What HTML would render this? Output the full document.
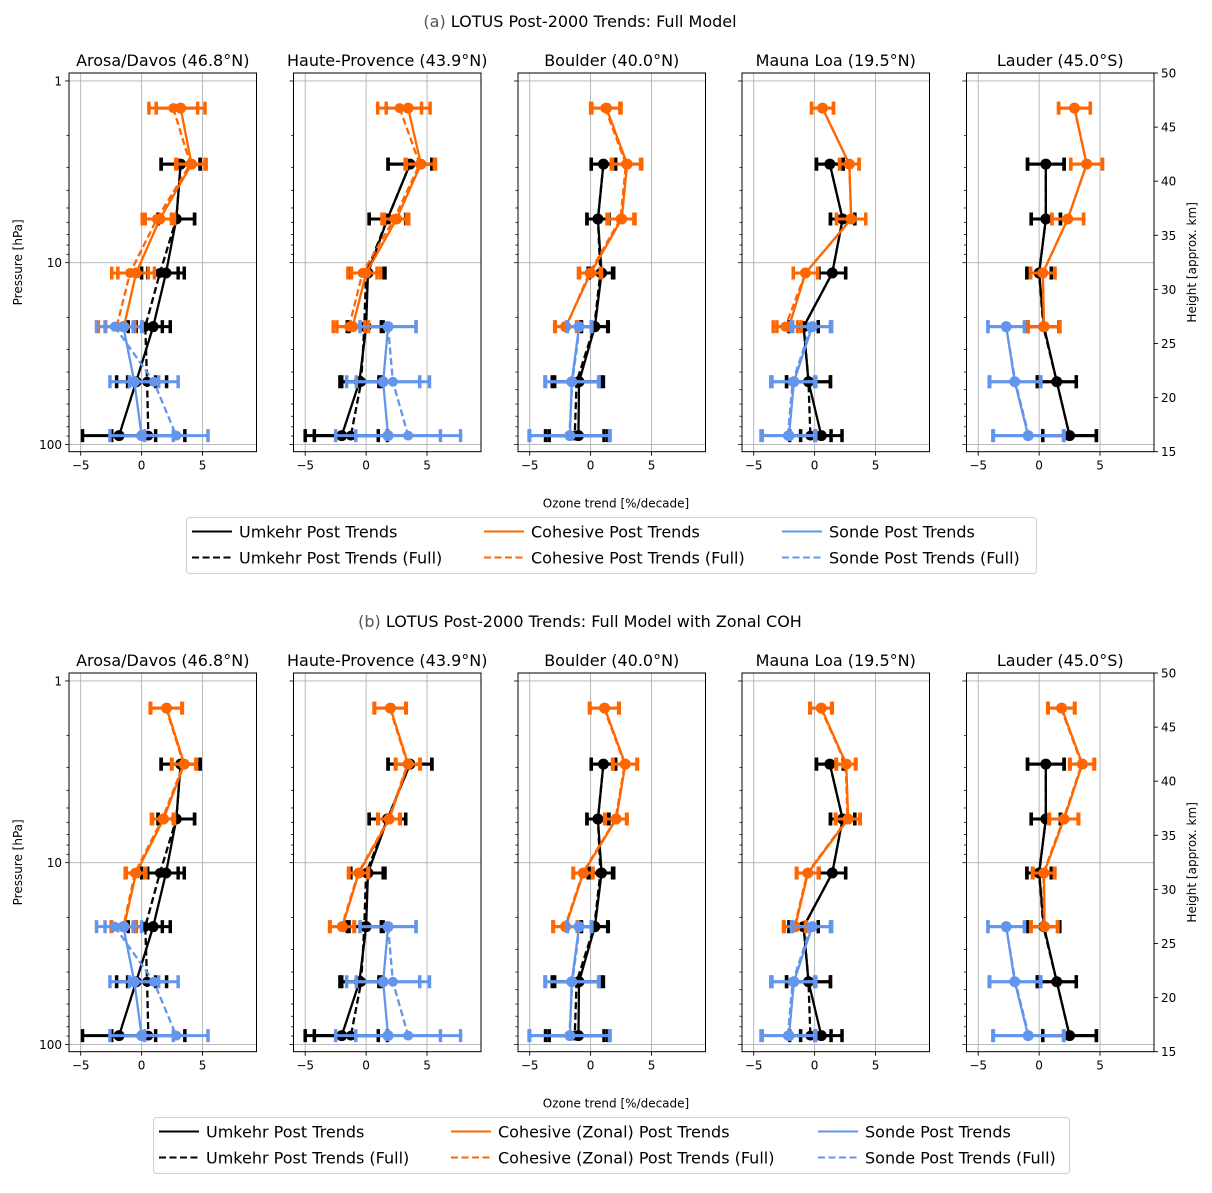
<!DOCTYPE html>
<html><head><meta charset="utf-8"><style>
html,body{margin:0;padding:0;background:#fff;}
svg text{font-family:"DejaVu Sans","Liberation Sans",sans-serif;fill:#000;}
</style></head><body>
<svg id="fig" width="1212" height="1188" viewBox="0 0 1212 1188" xmlns="http://www.w3.org/2000/svg"></svg>
<script>
const stations=["Arosa/Davos (46.8°N)","Haute-Provence (43.9°N)","Boulder (40.0°N)","Mauna Loa (19.5°N)","Lauder (45.0°S)"];
const umkLevels=[2.87,5.75,11.4,22.5,45.2,89.5];
const cohLevels=[1.41,2.87,5.75,11.4,22.5];
const sondeLevels=[22.5,45.2,89.5];
const xTicks=[-5,0,5];
const yTicks=[1,10,100];
const hTicks=[15,20,25,30,35,40,45,50];
const umkPost=[[3.2,2.85,2.0,0.95,-0.45,-1.85],[3.6,1.75,0.15,0,-0.55,-2.0],[1.05,0.6,0.9,0.35,-0.95,-1.0],[1.25,2.3,1.45,-0.9,-0.5,0.55],[0.55,0.55,0,0.4,1.45,2.5]];
const umkFull=[[3.2,2.85,1.5,0.3,0.45,0.55],[3.6,1.75,0,-0.15,-0.4,-1.25],[1.05,0.6,0.8,0.3,-1.15,-1.3],[1.25,2.3,1.45,-0.9,-0.5,-0.35],[0.55,0.55,0,0.35,1.45,2.5]];
const umkErr=[[1.6,1.5,1.5,1.4,1.6,3.0],[1.8,1.5,1.4,1.4,1.6,3.0],[1.0,0.9,1.0,1.1,2.0,2.4],[1.1,1.0,1.1,1.2,1.8,1.7],[1.5,1.2,1.0,1.3,1.6,2.2]];
const cohPostA=[[3.2,4.1,1.5,-0.45,-1.45],[3.45,4.5,2.5,0,-1.1],[1.3,3.0,2.55,0,-2.05],[0.65,2.85,3.0,-0.75,-2.1],[2.9,3.9,2.35,0.3,0.4]];
const cohFullA=[[2.6,4.0,1.25,-0.95,-2.05],[2.75,4.4,2.3,-0.3,-1.4],[1.2,2.9,2.45,-0.1,-2.0],[0.65,2.85,3.0,-0.75,-2.4],[2.9,3.9,2.35,0.3,0.4]];
const cohErrA=[[2.0,1.2,1.2,1.5,1.5],[1.8,1.2,1.0,1.2,1.3],[1.2,1.2,1.1,0.9,0.9],[0.9,0.8,1.2,1.0,1.0],[1.3,1.3,1.3,1.0,1.3]];
const cohPostB=[[2.05,3.5,1.8,-0.45,-1.45],[2.0,3.45,1.9,-0.6,-1.95],[1.15,2.85,2.1,-0.6,-2.05],[0.55,2.6,2.75,-0.55,-1.6],[1.85,3.55,2.05,0.4,0.45]];
const cohFullB=[[2.0,3.45,1.7,-0.55,-1.5],[1.95,3.4,1.85,-0.65,-2.0],[1.1,2.8,2.05,-0.65,-2.1],[0.5,2.55,2.7,-0.6,-1.65],[1.8,3.5,2.0,0.35,0.4]];
const cohErrB=[[1.3,1.0,0.9,0.8,1.0],[1.3,1.0,0.9,0.8,1.0],[1.2,1.0,0.9,0.8,1.0],[0.9,0.8,1.0,0.9,0.9],[1.1,1.0,1.2,0.9,1.1]];
const sondePost=[[-1.5,-0.6,0],[1.8,1.4,1.8],[-0.95,-1.55,-1.7],[-0.2,-1.7,-2.1],[-2.7,-2.0,-0.9]];
const sondeFull=[[-2.2,1.0,2.85],[1.8,2.2,3.45],[-0.9,-1.5,-1.75],[-0.3,-1.8,-2.2],[-2.7,-1.95,-0.85]];
const sondeErr=[[1.5,2.0,2.6],[2.3,3.0,4.3],[1.0,2.2,3.3],[1.6,1.8,2.2],[1.5,2.1,2.9]];

const NS="http://www.w3.org/2000/svg";
const svg=document.getElementById('fig');
function mk(tag,attrs,parent,txt){const e=document.createElementNS(NS,tag);for(const k in attrs)e.setAttribute(k,attrs[k]);if(txt!==undefined)e.textContent=txt;(parent||svg).appendChild(e);return e;}
const panelLefts=[69,293.5,518,742,966.5];
const PW=187.5, XMIN=-5.96, XMAX=9.43;
const PMIN=0.904, PMAX=109.7;
const BLACK="#000000", ORANGE="#ff6600", BLUE="#6495ed";

function drawRow(top, suffix, cohPost, cohFull, cohErr, label, titleText, legendLabels, legendBox){
  const H=378.7;
  const row=mk('g',{});
  
  
  const st=mk('text',{x:580,y:top-46,'font-size':16,'text-anchor':'middle'},row);
  
  
  const t1=mk('tspan',{fill:'#555'},st,label+' ');t1.setAttribute('style','fill:#555');
  mk('tspan',{},st,titleText);
  for(let p=0;p<5;p++){
    const L=panelLefts[p];
    const xs=v=>L+(v-XMIN)/(XMAX-XMIN)*PW;
    const ys=pr=>top+(Math.log10(pr)-Math.log10(PMIN))/(Math.log10(PMAX)-Math.log10(PMIN))*H;
    const g=mk('g',{},row);
    
    
    const clipId='clip'+suffix+p;
    const cp=mk('clipPath',{id:clipId},g);mk('rect',{x:L,y:top,width:PW,height:H},cp);
    xTicks.forEach(v=>{const l=mk('line',{x1:xs(v),x2:xs(v),y1:top,y2:top+H,stroke:'#b0b0b0','stroke-width':0.9},g);});
    yTicks.forEach(v=>{const l=mk('line',{x1:L,x2:L+PW,y1:ys(v),y2:ys(v),stroke:'#b0b0b0','stroke-width':0.9},g);});
    xTicks.forEach(v=>{mk('line',{x1:xs(v),x2:xs(v),y1:top+H,y2:top+H+4,stroke:'#000','stroke-width':0.9},g);
      const t=mk('text',{x:xs(v),y:top+H+18,'font-size':12,'text-anchor':'middle'},g,v<0?'−'+Math.abs(v):String(v));});
    for(let dec=0;dec<3;dec++){for(let m=1;m<10;m++){const pr=Math.pow(10,dec)*m;if(pr<PMIN||pr>PMAX)continue;
      const major=m===1;mk('line',{x1:L,x2:L-(major?4:2.5),y1:ys(pr),y2:ys(pr),stroke:'#000','stroke-width':0.8},g);}}
    if(p===0){yTicks.forEach(v=>{const t=mk('text',{x:L-7,y:ys(v)+4.5,'font-size':12,'text-anchor':'end'},g,String(v));});
      const yl=mk('text',{x:0,y:0,'font-size':12,'text-anchor':'middle',transform:`translate(22,${top+H/2}) rotate(-90)`},g,'Pressure [hPa]');}
    if(p===4){const R=L+PW;
      hTicks.forEach(h=>{const y=top+H-(h-15)/35*H;mk('line',{x1:R,x2:R+4,y1:y,y2:y,stroke:'#000','stroke-width':0.9},g);
        const t=mk('text',{x:R+7,y:y+4.5,'font-size':12},g,String(h));});
      const hl=mk('text',{x:0,y:0,'font-size':12,'text-anchor':'middle',transform:`translate(1196,${top+H/2}) rotate(-90)`},g,'Height [approx. km]');}
    const tt=mk('text',{x:L+PW/2,y:top-7,'font-size':16,'text-anchor':'middle'},g,stations[p]);
    
    const data=mk('g',{'clip-path':`url(#${clipId})`},g);
    function series(levels,vals,errs,color,dashed,name){
      const sg=mk('g',{},data);
      
      
      const pts=levels.map((lv,i)=>[xs(vals[i]),ys(lv)]);
      levels.forEach((lv,i)=>{const y=ys(lv),x1=xs(vals[i]-errs[i]),x2=xs(vals[i]+errs[i]);
        mk('line',{x1:x1,x2:x2,y1:y,y2:y,stroke:color,'stroke-width':3},sg);
        mk('line',{x1:x1,x2:x1,y1:y-6.5,y2:y+6.5,stroke:color,'stroke-width':3.5},sg);
        mk('line',{x1:x2,x2:x2,y1:y-6.5,y2:y+6.5,stroke:color,'stroke-width':3.5},sg);});
      const pl=mk('polyline',{points:pts.map(q=>q.join(',')).join(' '),fill:'none',stroke:color,'stroke-width':2.3,'stroke-dasharray':dashed?'7,3.5':'none'},sg);
      
      pts.forEach(q=>{const c=mk('circle',{cx:q[0],cy:q[1],r:dashed?5:5.5,fill:color},sg);});
    }
    series(umkLevels,umkFull[p],umkErr[p],BLACK,true,'umkehr-full');
    series(umkLevels,umkPost[p],umkErr[p],BLACK,false,'umkehr-post');
    series(cohLevels,cohFull[p],cohErr[p],ORANGE,true,'cohesive-full');
    series(cohLevels,cohPost[p],cohErr[p],ORANGE,false,'cohesive-post');
    series(sondeLevels,sondeFull[p],sondeErr[p],BLUE,true,'sonde-full');
    series(sondeLevels,sondePost[p],sondeErr[p],BLUE,false,'sonde-post');
    mk('rect',{x:L,y:top,width:PW,height:H,fill:'none',stroke:'#000','stroke-width':1},g);
  }
  const xl=mk('text',{x:616,y:top+H+56,'font-size':12,'text-anchor':'middle'},row,'Ozone trend [%/decade]');
  
  const [bx,by,bw,bh,colX]=legendBox;
  const lg=mk('g',{},row);
  
  
  mk('rect',{x:bx,y:by,width:bw,height:bh,fill:'#fff',stroke:'#d0d0d0','stroke-width':1,rx:3},lg);
  const cols=[BLACK,ORANGE,BLUE];
  for(let c=0;c<3;c++){for(let r=0;r<2;r++){
    const x=colX[c],y=by+14+r*26;
    const e=mk('g',{},lg);
    
    
    mk('line',{x1:x,x2:x+40,y1:y,y2:y,stroke:cols[c],'stroke-width':2,'stroke-dasharray':r?'7,3.5':'none'},e);
    mk('text',{x:x+47,y:y+6,'font-size':16},e,legendLabels[c][r]);
  }}
}
drawRow(73,'a',cohPostA,cohFullA,cohErrA,'(a)','LOTUS Post-2000 Trends: Full Model',
  [["Umkehr Post Trends","Umkehr Post Trends (Full)"],["Cohesive Post Trends","Cohesive Post Trends (Full)"],["Sonde Post Trends","Sonde Post Trends (Full)"]],
  [186.5,517.5,850,56,[192,484,782]]);
drawRow(673,'b',cohPostB,cohFullB,cohErrB,'(b)','LOTUS Post-2000 Trends: Full Model with Zonal COH',
  [["Umkehr Post Trends","Umkehr Post Trends (Full)"],["Cohesive (Zonal) Post Trends","Cohesive (Zonal) Post Trends (Full)"],["Sonde Post Trends","Sonde Post Trends (Full)"]],
  [153.5,1117.5,916,56,[159,451,818]]);
</script>
</body></html>
